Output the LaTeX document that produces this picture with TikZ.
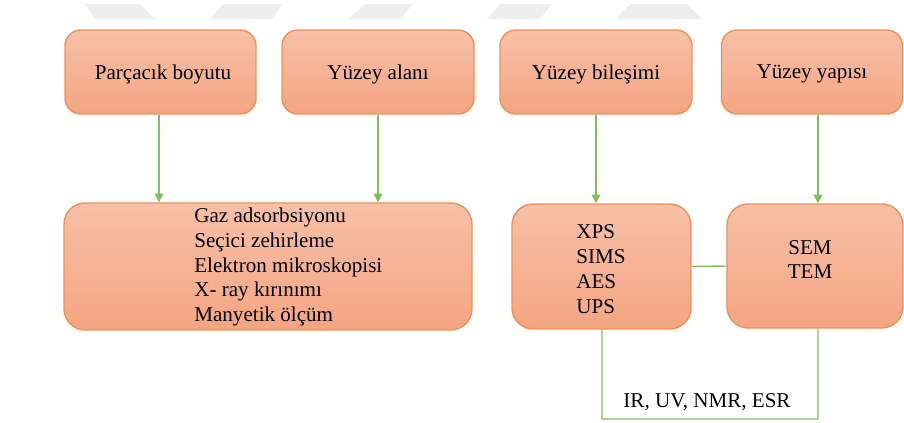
\documentclass[tikz,border=0pt]{standalone}
\usepackage{fontspec}
\setmainfont{Liberation Serif}
\usetikzlibrary{arrows.meta,calc}
\definecolor{boxtop}{HTML}{F7C0A8}
\definecolor{boxbot}{HTML}{F4A582}
\definecolor{boxline}{HTML}{EF9152}
\definecolor{linkgreen}{HTML}{7DC15A}
\definecolor{wmark}{HTML}{EEEEEE}
\tikzset{
  box/.style={draw=boxline, line width=0.8pt, top color=boxtop, bottom color=boxbot,
    rounded corners=9pt, inner sep=0pt, font=\fontsize{12}{14.2}\selectfont},
  link/.style={draw=linkgreen, line width=0.8pt},
  arr/.style={link, -{Triangle[width=5pt,length=5pt]}},
  txt/.style={font=\fontsize{12}{14.2}\selectfont, inner sep=0pt, align=left},
}
\begin{document}
\begin{tikzpicture}[x=0.02cm,y=-0.02cm]
\useasboundingbox (0,0) rectangle (904,423);
% watermark
\fill[wmark] (85,4) -- (140,4) -- (155,19) -- (95,19) -- cycle;
\fill[wmark] (223,4) -- (282,4) -- (272,19) -- (210,19) -- cycle;
\fill[wmark] (365,4) -- (413,4) -- (400,19) -- (348,19) -- cycle;
\fill[wmark] (500,4) -- (552,4) -- (540,19) -- (487,19) -- cycle;
\fill[wmark] (630,4) -- (687,4) -- (702,19) -- (615,19) -- cycle;
% top boxes
\node[box, minimum width=3.82cm, minimum height=1.68cm] (b1) at (160.5,72) {};
\node[box, minimum width=3.84cm, minimum height=1.68cm] (b2) at (378,72) {};
\node[box, minimum width=3.84cm, minimum height=1.68cm] (b3) at (596,72) {};
\node[box, minimum width=3.62cm, minimum height=1.68cm] (b4) at (812,72) {};
\node[txt] (t1) at (163,74) {Parçacık boyutu};
\node[txt] (t2) at (378,74) {Yüzey alanı};
\node[txt] (t3) at (596,74) {Yüzey bileşimi};
\node[txt] (t4) at (812,74) {Yüzey yapısı};
% lower boxes
\node[box, rounded corners=12pt, minimum width=8.16cm, minimum height=2.54cm] (big) at (268,266.5) {};
\node[box, rounded corners=12pt, minimum width=3.58cm, minimum height=2.50cm] (xps) at (601.5,266.5) {};
\node[box, rounded corners=12pt, minimum width=3.52cm, minimum height=2.48cm] (sem) at (815,266) {};
\node[txt, anchor=west] (bigt) at (194,267) {Gaz adsorbsiyonu\\Seçici zehirleme\\Elektron mikroskopisi\\X- ray kırınımı\\Manyetik ölçüm};
\node[txt, anchor=west] (xpst) at (576,269) {XPS\\SIMS\\AES\\UPS};
\node[txt, align=center] (semt) at (810,259.5) {SEM\\TEM};
% connectors
\draw[arr] ([xshift=-0.03cm]b1.south) -- ([xshift=-0.03cm]b1.south |- big.north);
\draw[arr] (b2.south) -- (b2.south |- big.north);
\draw[arr] (b3.south) -- (b3.south |- xps.north);
\draw[arr] ([xshift=0.12cm]b4.south) -- ([xshift=0.12cm]b4.south |- sem.north);
\draw[link] (xps.east) -- (sem.west);
\coordinate (bl) at (602,419);
\coordinate (br) at (818,419);
\draw[link] ([xshift=0.01cm]xps.south) -- (bl) -- (br) -- ([xshift=0.06cm]sem.south);
\node[txt] (lab) at (707,402) {IR, UV, NMR, ESR};
\end{tikzpicture}
\end{document}
